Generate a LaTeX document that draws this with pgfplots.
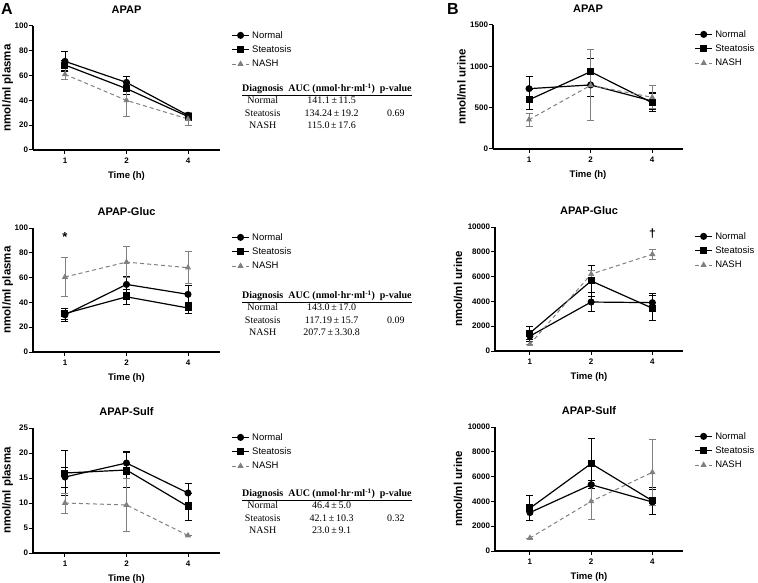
\documentclass[border=0pt]{standalone}
\usepackage{fontspec}
\setmainfont{Liberation Sans}
\newfontfamily\serif{Liberation Serif}
\usepackage{pgfplots}
\pgfplotsset{compat=1.18}

\definecolor{nashgray}{RGB}{128,128,128}

\pgfplotsset{
  panel/.style={
    scale only axis, anchor=north west,
    axis lines=left, axis line style={-, line width=1.2pt},
    tick style={line width=1pt, black}, tick align=outside, major tick length=4pt,
    xmin=0.48, xmax=3.52, ymin=0,
    xtick={1,2,3}, xticklabels={1,2,4},
    ticklabel style={font=\bfseries\fontsize{8}{9}\selectfont},
    yticklabel style={inner xsep=0.8pt},
    /pgf/number format/assume math mode=true,
    /pgf/number format/1000 sep={},
    scaled y ticks=false,
    title style={font=\bfseries\fontsize{11}{13}\selectfont, yshift=3pt},
    xlabel={Time (h)},
    xlabel style={font=\bfseries\fontsize{9.5}{11}\selectfont, at={(axis description cs:0.5,0)}, anchor=north, yshift=-18pt},
    legend style={at={(1.06,0.98)}, anchor=north west, draw=none, fill=none,
      font=\fontsize{9.5}{11}\selectfont, row sep=1pt, inner sep=0pt, nodes={inner sep=2.5pt}},
    legend cell align=left,
    clip=false,
  },
  ylab/.style={ylabel style={font=\bfseries\fontsize{11.5}{14}\selectfont, at={(axis description cs:#1,0.5)}, anchor=center}},
  errs/.style={/pgfplots/error bars/y dir=both, /pgfplots/error bars/y explicit,
    /pgfplots/error bars/error bar style={line width=0.9pt, solid},
    /pgfplots/error bars/error mark options={rotate=90, mark size=3.5pt, line width=0.9pt, solid}},
  normal/.style={black, line width=1.2pt, mark=*, mark size=2.9pt, mark options={solid, fill=black}, errs},
  steat/.style={black, line width=1.2pt, mark=square*, mark size=2.9pt, mark options={solid, fill=black}, errs},
  nash/.style={nashgray, line width=1pt, dash pattern=on 4pt off 3pt, mark=triangle*, mark size=2.6pt, mark options={solid, fill=nashgray}, errs},
}

\newcommand{\auc}[4]{{\serif\fontsize{10}{12.5}\selectfont
\setlength{\tabcolsep}{2.5pt}%
\begin{tabular}{@{}ccc@{}}
\textbf{Diagnosis} & \textbf{AUC (nmol·hr·ml\textsuperscript{-1})} & \textbf{p-value}\\[-1pt]
\hline
Normal & #1 & \\
Steatosis & #2 & #4\\
NASH & #3 & \\
\end{tabular}}}

\begin{document}
\begin{tikzpicture}
\useasboundingbox (0,0) rectangle (758pt,-583pt);

\node[font=\bfseries\fontsize{16}{18}\selectfont, anchor=north west, inner sep=0pt] at (1pt,-3pt) {A};
\node[font=\bfseries\fontsize{16}{18}\selectfont, anchor=north west, inner sep=0pt] at (447pt,-3pt) {B};

% ---- A: plasma ----
\begin{axis}[panel, at={(33pt,-26pt)}, width=187pt, height=124pt,
  title={APAP}, ymax=100, ytick={0,20,...,100},
  ylabel={nmol/ml plasma}, ylab=-0.136]
\addplot[normal] coordinates {(1,71.5) +- (0,8) (2,54.5) +- (0,5) (3,28) +- (0,2.5)};
\addplot[steat] coordinates {(1,68.5) +- (0,4) (2,49.5) +- (0,5) (3,27) +- (0,3)};
\addplot[nash] coordinates {(1,61) +- (0,4.5) (2,40) +- (0,13) (3,25) +- (0,5.5)};
\legend{Normal,Steatosis,NASH}
\end{axis}
\node[anchor=north west, inner sep=0pt] at (242pt,-83pt) {\auc{141.1\,±\,11.5}{134.24\,±\,19.2}{115.0\,±\,17.6}{0.69}};

\begin{axis}[panel, at={(33pt,-228pt)}, width=187pt, height=124pt,
  title={APAP-Gluc}, ymax=100, ytick={0,20,...,100},
  ylabel={nmol/ml plasma}, ylab=-0.136]
\addplot[normal] coordinates {(1,30) +- (0,5) (2,54.5) +- (0,6.5) (3,46.5) +- (0,7)};
\addplot[steat] coordinates {(1,31) +- (0,4.5) (2,44.5) +- (0,6) (3,35.5) +- (0,4.5)};
\addplot[nash] coordinates {(1,60.5) +- (0,16) (2,72.5) +- (0,12.5) (3,68) +- (0,13)};
\legend{Normal,Steatosis,NASH}
\node[font=\bfseries\fontsize{13}{13}\selectfont] at (axis cs:1,93) {*};
\end{axis}
\node[anchor=north west, inner sep=0pt] at (242pt,-290pt) {\auc{143.0\,±\,17.0}{117.19\,±\,15.7}{207.7\,±\,3.30.8}{0.09}};

\begin{axis}[panel, at={(33pt,-428pt)}, width=187pt, height=125pt,
  title={APAP-Sulf}, ymax=25, ytick={0,5,...,25},
  ylabel={nmol/ml plasma}, ylab=-0.136]
\addplot[normal] coordinates {(1,15.2) +- (0,2) (2,18) +- (0,2.3) (3,12) +- (0,1.9)};
\addplot[steat] coordinates {(1,16) +- (0,4.5) (2,16.6) +- (0,3.5) (3,9.3) +- (0,2.7)};
\addplot[nash] coordinates {(1,10) +- (0,2) (2,9.6) +- (0,5.3) (3,3.5) +- (0,0)};
\legend{Normal,Steatosis,NASH}
\end{axis}
\node[anchor=north west, inner sep=0pt] at (242pt,-488pt) {\auc{46.4\,±\,5.0}{42.1\,±\,10.3}{23.0\,±\,9.1}{0.32}};

% ---- B: urine ----
\begin{axis}[panel, at={(493pt,-25pt)}, width=190pt, height=124pt, xmin=0.415, xmax=3.5,
  title={APAP}, ymax=1500, ytick={0,500,1000,1500},
  ylabel={nmol/ml urine}, ylab=-0.165]
\addplot[normal] coordinates {(1,730) +- (0,150) (2,775) +- (0,145) (3,580) +- (0,105)};
\addplot[steat] coordinates {(1,595) +- (0,120) (2,935) +- (0,165) (3,560) +- (0,110)};
\addplot[nash] coordinates {(1,355) +- (0,80) (2,770) +- (0,430) (3,625) +- (0,140)};
\legend{Normal,Steatosis,NASH}
\end{axis}

\begin{axis}[panel, at={(495pt,-227pt)}, width=188pt, height=124pt, xmin=0.43, xmax=3.5,
  title={APAP-Gluc}, ymax=10000, ytick={0,2000,...,10000},
  ylabel={nmol/ml urine}, ylab=-0.197]
\addplot[normal] coordinates {(1,1200) +- (0,400) (2,3950) +- (0,800) (3,3900) +- (0,750)};
\addplot[steat] coordinates {(1,1450) +- (0,500) (2,5650) +- (0,1250) (3,3450) +- (0,1000)};
\addplot[nash] coordinates {(1,550) +- (0,0) (2,6200) +- (0,300) (3,7800) +- (0,400)};
\legend{Normal,Steatosis,NASH}
\node[font=\bfseries\fontsize{12}{12}\selectfont] at (axis cs:3,9500) {†};
\end{axis}

\begin{axis}[panel, at={(495pt,-427pt)}, width=188pt, height=124pt, xmin=0.43, xmax=3.5,
  title={APAP-Sulf}, ymax=10000, ytick={0,2000,...,10000},
  ylabel={nmol/ml urine}, ylab=-0.197]
\addplot[normal] coordinates {(1,3100) +- (0,650) (2,5350) +- (0,300) (3,3950) +- (0,1000)};
\addplot[steat] coordinates {(1,3450) +- (0,1000) (2,7050) +- (0,2000) (3,4050) +- (0,1100)};
\addplot[nash] coordinates {(1,1050) +- (0,0) (2,4000) +- (0,1450) (3,6350) +- (0,2650)};
\legend{Normal,Steatosis,NASH}
\end{axis}
\end{tikzpicture}
\end{document}
